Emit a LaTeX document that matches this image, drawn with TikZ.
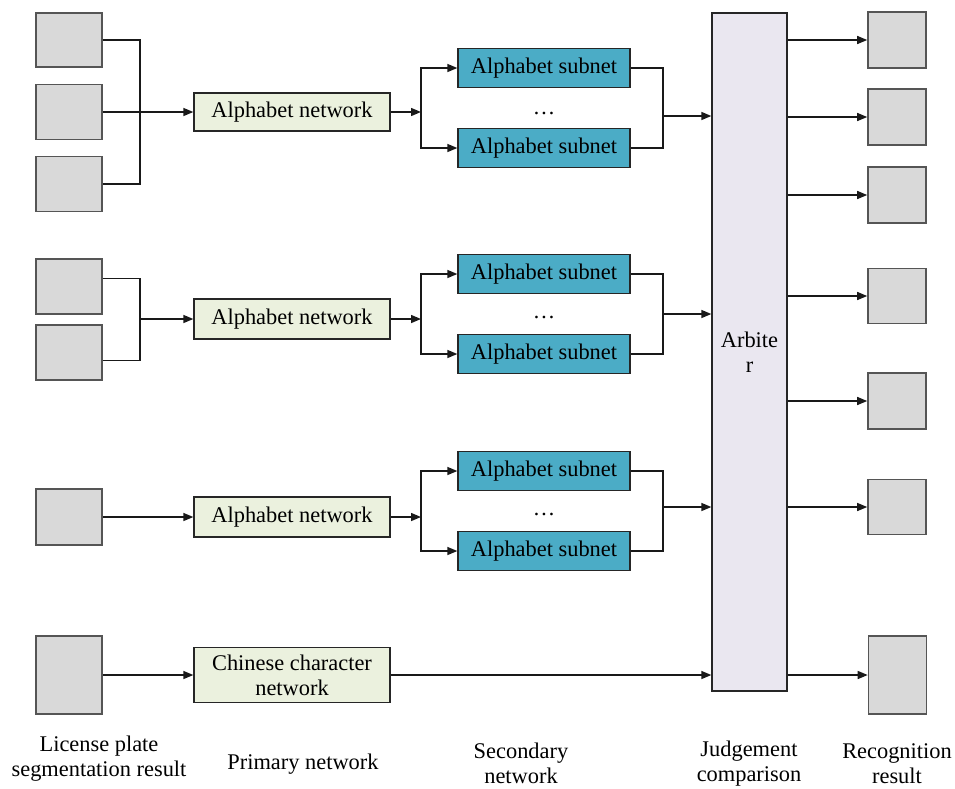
\documentclass[tikz,border=0pt]{standalone}
\usepackage{fontspec}
\setmainfont{Liberation Serif}
\newfontfamily\labelfont{Liberation Serif}
\usetikzlibrary{arrows.meta}
\definecolor{cellgray}{HTML}{D9D9D9}
\definecolor{celledge}{HTML}{555555}
\definecolor{netgreen}{HTML}{EBF1DE}
\definecolor{subteal}{HTML}{4BACC6}
\definecolor{arbfill}{HTML}{EAE7F0}
\tikzset{
  cell/.style={draw=celledge, fill=cellgray, line width=1.6pt, inner sep=0pt},
  netbox/.style={draw=black!85, fill=netgreen, line width=1.3pt, minimum width=196pt, inner sep=0pt, align=center},
  subbox/.style={draw=black!85, fill=subteal, line width=1.3pt, minimum width=172pt, minimum height=39pt, inner sep=0pt},
  arbbox/.style={draw=black!85, fill=arbfill, line width=1.3pt, minimum width=75pt, minimum height=678pt, inner sep=0pt, align=center},
  wire/.style={draw=black!90, line width=1.4pt},
  feed/.style={wire, -{Triangle[length=10pt,width=8pt]}},
  caption/.style={align=center},
}
\begin{document}
\begin{tikzpicture}[x=1pt, y=-1pt, font=\labelfont\fontsize{22.4}{25}\selectfont]
\useasboundingbox (0,0) rectangle (955,788);

% segmented character cells
\node[cell, minimum width=66pt, minimum height=54pt] (L1) at (69,40) {};
\node[cell, minimum width=66pt, minimum height=55pt] (L2) at (69,112) {};
\node[cell, minimum width=66pt, minimum height=55pt] (L3) at (69,184) {};
\node[cell, minimum width=66pt, minimum height=55pt] (L4) at (69,286.5) {};
\node[cell, minimum width=66pt, minimum height=55pt] (L5) at (69,352.5) {};
\node[cell, minimum width=66pt, minimum height=56pt] (L6) at (69,517) {};
\node[cell, minimum width=66pt, minimum height=78pt] (L7) at (69,675) {};

% primary networks
\node[netbox, minimum height=38pt] (A1) at (292,112) {Alphabet network};
\node[netbox, minimum height=40pt] (A2) at (292,319) {Alphabet network};
\node[netbox, minimum height=40pt] (A3) at (292,517) {Alphabet network};
\node[netbox, minimum height=55pt] (CN) at (292,675) {Chinese character\\network};

% secondary networks
\node[subbox] (S1) at (544,68) {Alphabet subnet};
\node[subbox] (S2) at (544,148) {Alphabet subnet};
\node (D1) at (544,113) {…};
\node[subbox] (S3) at (544,274) {Alphabet subnet};
\node[subbox] (S4) at (544,354) {Alphabet subnet};
\node (D2) at (544,317) {…};
\node[subbox] (S5) at (544,471) {Alphabet subnet};
\node[subbox] (S6) at (544,551) {Alphabet subnet};
\node (D3) at (544,514) {…};

% arbiter
\node[arbbox] (ARB) at (749.5,352) {Arbite\\r};

% recognition result cells
\node[cell, minimum width=58pt, minimum height=56pt] (R1) at (897,40) {};
\node[cell, minimum width=58pt, minimum height=56pt] (R2) at (897,117) {};
\node[cell, minimum width=58pt, minimum height=56pt] (R3) at (897,195) {};
\node[cell, minimum width=58pt, minimum height=55pt] (R4) at (897,296) {};
\node[cell, minimum width=58pt, minimum height=56pt] (R5) at (897,401) {};
\node[cell, minimum width=58pt, minimum height=55pt] (R6) at (897,507) {};
\node[cell, minimum width=58pt, minimum height=78pt] (R7) at (897.5,675) {};

% junction points
\coordinate (J1) at (140,112);
\coordinate (J2) at (140,319);
\coordinate (B1) at (421,112);
\coordinate (B2) at (421,319);
\coordinate (B3) at (421,517);
\coordinate (M1) at (663,116);
\coordinate (M2) at (663,314);
\coordinate (M3) at (663,507);

% cells into primary networks
\draw[wire] (L1.east) -| (J1);
\draw[wire] (L3.east) -| (J1);
\draw[feed] (L2.east) -- (A1.west);
\draw[wire] (L4.13) -| (J2);
\draw[wire] (L5.-13) -| (J2);
\draw[feed] (J2) -- (A2.west);
\draw[feed] (L6.east) -- (A3.west);
\draw[feed] (L7.east) -- (CN.west);

% primary into secondary networks
\draw[feed] (A1.east) -- (B1);
\draw[feed] (B1) |- (S1.west);
\draw[feed] (B1) |- (S2.west);
\draw[feed] (A2.east) -- (B2);
\draw[feed] (B2) |- (S3.west);
\draw[feed] (B2) |- (S4.west);
\draw[feed] (A3.east) -- (B3);
\draw[feed] (B3) |- (S5.west);
\draw[feed] (B3) |- (S6.west);

% secondary networks into the arbiter
\draw[wire] (S1.east) -| (M1);
\draw[wire] (S2.east) -| (M1);
\draw[feed] (M1) -- (M1 -| ARB.west);
\draw[wire] (S3.east) -| (M2);
\draw[wire] (S4.east) -| (M2);
\draw[feed] (M2) -- (M2 -| ARB.west);
\draw[wire] (S5.east) -| (M3);
\draw[wire] (S6.east) -| (M3);
\draw[feed] (M3) -- (M3 -| ARB.west);
\draw[feed] (CN.east) -- (CN.east -| ARB.west);

% arbiter outputs
\foreach \r in {R1,R2,R3,R4,R5,R6,R7}
  \draw[feed] (\r.west -| ARB.east) -- (\r.west);

% column captions
\node[caption] (C1) at (99,758.5) {License plate\\segmentation result};
\node[caption] (C2) at (303,764) {Primary network};
\node[caption] (C3) at (521,763.5) {Secondary\\network};
\node[caption] (C4) at (749,764) {Judgement\\comparison};
\node[caption] (C5) at (897,764) {Recognition\\result};
\end{tikzpicture}
\end{document}
